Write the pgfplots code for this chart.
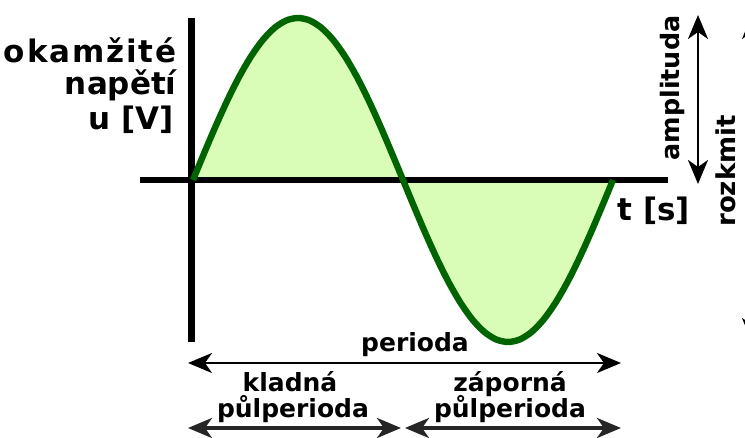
\documentclass[border=0pt]{standalone}
\usepackage{fontspec}
\setmainfont{DejaVu Sans}
\usepackage{pgfplots}
\usepackage{pgfplotstable}
\pgfplotsset{compat=1.18}
\usetikzlibrary{arrows.meta}

\definecolor{fillgreen}{RGB}{217,252,182}
\definecolor{linegreen}{RGB}{0,100,0}

% one period of the voltage, phase in degrees
\pgfplotstableread{
deg u
0 0
10 0.1736
20 0.3420
30 0.5
40 0.6428
50 0.7660
60 0.8660
70 0.9397
80 0.9848
90 1
100 0.9848
110 0.9397
120 0.8660
130 0.7660
140 0.6428
150 0.5
160 0.3420
170 0.1736
180 0
190 -0.1736
200 -0.3420
210 -0.5
220 -0.6428
230 -0.7660
240 -0.8660
250 -0.9397
260 -0.9848
270 -1
280 -0.9848
290 -0.9397
300 -0.8660
310 -0.7660
320 -0.6428
330 -0.5
340 -0.3420
350 -0.1736
360 0
}\sinetab

\begin{document}
\begin{tikzpicture}[font=\bfseries]
\begin{axis}[
    width=372.5pt, height=219pt,
    scale only axis,
    hide axis,
    xmin=-165.43, xmax=473.14,
    ymin=-1.5926, ymax=1.1111,
]
\addplot[draw=none, fill=fillgreen, smooth] table[x=deg, y=u] {\sinetab} -- cycle;
\draw[line width=3.5pt] (axis cs:-1.71,-1.0) -- (axis cs:-1.71,1.0);
\draw[line width=3pt] (axis cs:-45.4,0) -- (axis cs:407.1,0);
\addplot[linegreen, line width=3.2pt, smooth] table[x=deg, y=u] {\sinetab};
\end{axis}

% labels and arrows, positions in pixels of the 745x438 picture
\begin{scope}[x=0.5pt, y=-0.5pt, shift={(0pt,219pt)}]
  \node[anchor=base east, inner sep=0, font=\fontsize{15.5}{18}\bfseries\addfontfeature{LetterSpace=6}] at (177,63) {okamžité};
  \node[anchor=base east, inner sep=0, font=\fontsize{15.5}{18}\bfseries] at (177,95) {napětí};
  \node[anchor=base east, inner sep=0, font=\fontsize{15.5}{18}\bfseries] at (174,130) {u [V]};
  \node[anchor=base west, inner sep=0, font=\fontsize{15.5}{18}\bfseries] at (617,221) {t [s]};

  \tikzset{arr/.style={-{Stealth[length=12pt,width=10pt,inset=3.5pt]}}}
  \node[rotate=90, inner sep=0, font=\fontsize{12.7}{15}\bfseries] at (672,88) {amplituda};
  \draw[line width=1.3pt, arr] (698,100) -- (698,15);
  \draw[line width=1.3pt, arr] (698,100) -- (698,184);
  \node[rotate=90, inner sep=0, font=\fontsize{13}{15}\bfseries] at (726,171) {rozkmit};
  \draw[line width=1.3pt, arr] (752,180) -- (752,15);
  \draw[line width=1.3pt, arr] (752,180) -- (752,342);

  \node[anchor=base, inner sep=0, font=\fontsize{12.5}{15}\bfseries] at (415,352) {perioda};
  \draw[line width=1.3pt, arr] (400,363) -- (188,363);
  \draw[line width=1.3pt, arr] (400,363) -- (621,363);

  \node[anchor=base, inner sep=0, font=\fontsize{12.5}{15}\bfseries] at (290,392) {kladná};
  \node[anchor=base, inner sep=0, font=\fontsize{12.5}{15}\bfseries] at (293,418) {půlperioda};
  \node[anchor=base, inner sep=0, font=\fontsize{12.5}{15}\bfseries] at (510,392) {záporná};
  \node[anchor=base, inner sep=0, font=\fontsize{12.5}{15}\bfseries] at (510,418) {půlperioda};
  \draw[line width=1.8pt, black!85, arr] (295,428) -- (188,428);
  \draw[line width=1.8pt, black!85, arr] (295,428) -- (401,428);
  \draw[line width=1.8pt, black!85, arr] (512,428) -- (405,428);
  \draw[line width=1.8pt, black!85, arr] (512,428) -- (621,428);
\end{scope}

\pgfresetboundingbox
\path (0,0) rectangle (372.5pt,219pt);
\end{tikzpicture}
\end{document}
